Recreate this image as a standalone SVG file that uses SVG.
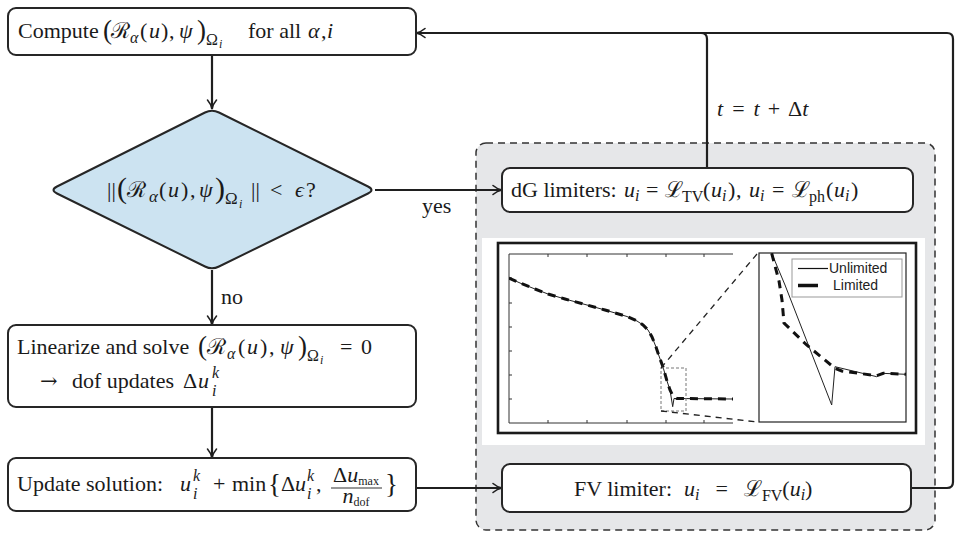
<svg xmlns="http://www.w3.org/2000/svg" width="956" height="533" viewBox="0 0 956 533">
<style>
.box{fill:#fff;stroke:#262626;stroke-width:2}
.t{font-family:"Liberation Serif","DejaVu Serif",serif;font-size:22px;fill:#1a1a1a}
.i{font-style:italic}
.s{font-size:16px}
.xs{font-size:12px}
.bp{font-size:27px}
.conn{fill:none;stroke:#1f1f1f;stroke-width:2.2}
.ax{fill:none;stroke:#333;stroke-width:1}
.sol{fill:none;stroke:#222;stroke-width:1}
.lim{fill:none;stroke:#111;stroke-width:3;stroke-dasharray:8 6}
.leg{font-family:"Liberation Sans",Arial,sans-serif;font-size:14px;fill:#222}
</style>
<defs>
<marker id="ah" viewBox="0 0 12 12" refX="11" refY="6" markerWidth="12" markerHeight="12" markerUnits="userSpaceOnUse" orient="auto">
<path d="M2,1.5 Q6,5 11,6 Q6,7 2,10.5" fill="none" stroke="#1f1f1f" stroke-width="1.6" stroke-linecap="round"/>
</marker>
<clipPath id="cmain"><rect x="509" y="254" width="224" height="169"/></clipPath>
<clipPath id="cins"><rect x="759" y="253" width="147" height="169"/></clipPath>
</defs>

<g id="limiter-region">
<rect x="476" y="143" width="459" height="387" rx="10" fill="#e6e7e9" stroke="#333" stroke-width="1.5" stroke-dasharray="7 5"/>
<rect x="482" y="238" width="443" height="207" fill="#fff"/>
</g>

<g id="plot">
<rect x="498" y="243" width="418" height="190" fill="none" stroke="#1a1a1a" stroke-width="2.6"/>
<path class="ax" d="M509,254 V423 M509,254 H733 M509,423 H733"/>
<path class="ax" d="M548,254v3M587,254v3M627,254v3M666,254v3M704,254v3M548,423v-3M587,423v-3M627,423v-3M666,423v-3M704,423v-3M509,278h3M509,303h3M509,327h3M509,351h3M509,375h3M509,399h3"/>
<g clip-path="url(#cmain)">
<polyline class="sol" points="509,278 520,283 535,289 548,294 565,299 587,305 605,310 627,316.5 637,321 643,325 648,330 652,337 656,347 659,356 663,367 667,381 670,390 672.7,406.7 674,398.5 677,398.5 733,399"/>
<polyline class="lim" points="509,278 520,283 535,289 548,294 565,299 587,305 605,310 627,316.5 637,321 643,325 648,330 652,337 656,347 659,356 663,367 667,381 670,390 673,396 677,398.5 733,399"/>
</g>
<rect x="661" y="368" width="25" height="43" fill="none" stroke="#777" stroke-width="1" stroke-dasharray="3 2"/>
<path d="M661,368 L757,254 M661,411 L757,422" fill="none" stroke="#222" stroke-width="1.3" stroke-dasharray="6 5"/>
<rect x="759" y="253" width="147" height="169" fill="#fff" stroke="#222" stroke-width="1.2"/>
<g clip-path="url(#cins)">
<polyline class="sol" points="771.7,253.3 785,285 831.7,405 835,366.7 876.7,376.7 881.7,373.3 906,374.3"/>
<polyline class="lim" points="771.7,253.3 779,281 782,300 784,323 806.7,345 835,368.3 841.7,371 876.7,375.7 883.3,373.3 906,374.3"/>
</g>
<rect x="792" y="259" width="110" height="38" fill="#fff" stroke="#999" stroke-width="1"/>
<path d="M798,268.5 H828" stroke="#111" stroke-width="1.2"/>
<path d="M798,285.5 H818" stroke="#111" stroke-width="3.5"/>
<text class="leg" x="829" y="273">Unlimited</text>
<text class="leg" x="833" y="290">Limited</text>
</g>

<g id="connectors">
<path class="conn" d="M212,55 V109" marker-end="url(#ah)"/>
<path class="conn" d="M375,190 H502" marker-end="url(#ah)"/>
<path class="conn" d="M212,270 V325" marker-end="url(#ah)"/>
<path class="conn" d="M212,407 V458" marker-end="url(#ah)"/>
<path class="conn" d="M416,488 H502" marker-end="url(#ah)"/>
<path class="conn" d="M911,488 H947 Q953,488 953,482 V39 Q953,33 947,33 H416" marker-end="url(#ah)"/>
<path class="conn" d="M707,168 V39 Q707,33 701,33"/>
<text class="t" x="422" y="213">yes</text>
<text class="t" x="221" y="304">no</text>
<text class="t" x="717" y="116" font-size="24"><tspan class="i">t</tspan><tspan dx="9">=</tspan><tspan class="i" dx="9">t</tspan><tspan dx="8">+</tspan><tspan dx="8">Δ</tspan><tspan class="i">t</tspan></text>
</g>

<g id="compute">
<rect class="box" x="8" y="8" width="408" height="47" rx="8"/>
<text class="t" y="38"><tspan x="18">Compute</tspan><tspan x="103" class="bp" y="39">(</tspan><tspan x="111" y="38">ℛ</tspan><tspan x="130" class="s i" y="43">α</tspan><tspan x="140" y="38">(</tspan><tspan x="149" class="i">u</tspan><tspan x="161">)</tspan><tspan x="169">,</tspan><tspan x="179" class="i">ψ</tspan><tspan x="197" class="bp" y="39">)</tspan><tspan x="206" class="s" y="45">Ω</tspan><tspan x="219" class="xs i" y="48">i</tspan><tspan x="248" y="38">for all</tspan><tspan x="308" class="i">α</tspan><tspan x="321">,</tspan><tspan x="327" class="i">i</tspan></text>
</g>

<g id="check">
<path d="M205,112.5 Q212,109 219,112.5 L368,186.5 Q375,190 368,193.5 L219,266.5 Q212,270 205,266.5 L57,193.5 Q50,190 57,186.5 Z" fill="#cce3f1" stroke="#262626" stroke-width="2"/>
<text class="t" y="197" font-size="25"><tspan x="107">||</tspan><tspan x="117" y="198" font-size="30">(</tspan><tspan x="127" y="197">ℛ</tspan><tspan x="149" class="i" y="202" font-size="17">α</tspan><tspan x="159" y="197">(</tspan><tspan x="168" class="i">u</tspan><tspan x="181">)</tspan><tspan x="190">,</tspan><tspan x="199" class="i">ψ</tspan><tspan x="215" y="198" font-size="30">)</tspan><tspan x="225" y="204" font-size="17">Ω</tspan><tspan x="239" class="i" y="208" font-size="12">i</tspan><tspan x="251" y="197">||</tspan><tspan x="270">&lt;</tspan><tspan x="295" class="i">ϵ</tspan><tspan x="306">?</tspan></text>
</g>

<g id="linearize">
<rect class="box" x="8" y="325" width="408" height="82" rx="8"/>
<text class="t" y="354"><tspan x="17">Linearize and solve</tspan><tspan x="198" class="bp" y="355">(</tspan><tspan x="207" y="354">ℛ</tspan><tspan x="227" class="s i" y="359">α</tspan><tspan x="238" y="354">(</tspan><tspan x="247" class="i">u</tspan><tspan x="260">)</tspan><tspan x="269">,</tspan><tspan x="280" class="i">ψ</tspan><tspan x="298" class="bp" y="355">)</tspan><tspan x="307" class="s" y="361">Ω</tspan><tspan x="320" class="xs i" y="364">i</tspan><tspan x="340" y="354">=</tspan><tspan x="361">0</tspan></text>
<text class="t" y="388"><tspan x="40" font-family="DejaVu Serif" font-size="21">→</tspan><tspan x="72">dof updates</tspan><tspan x="183">Δ</tspan><tspan x="198" class="i">u</tspan><tspan x="212" class="s i" y="378">k</tspan><tspan x="212" class="s i" y="396">i</tspan></text>
</g>

<g id="update">
<rect class="box" x="8" y="458" width="408" height="53" rx="8"/>
<text class="t" y="491"><tspan x="17">Update solution:</tspan><tspan x="180" class="i">u</tspan><tspan x="193" y="481" class="s i">k</tspan><tspan x="193" y="499" class="s i">i</tspan><tspan x="213" y="491">+</tspan><tspan x="232">min</tspan><tspan x="268" class="bp" y="493">{</tspan><tspan x="281" y="491">Δ</tspan><tspan x="295" class="i">u</tspan><tspan x="307" y="481" class="s i">k</tspan><tspan x="307" y="499" class="s i">i</tspan><tspan x="316" y="491">,</tspan><tspan x="385" class="bp" y="493">}</tspan></text>
<text class="t" x="356" y="482" text-anchor="middle" font-size="17">Δ<tspan class="i">u</tspan><tspan class="xs" dy="3">max</tspan></text>
<path d="M331,488 H382" stroke="#1a1a1a" stroke-width="0.9"/>
<text class="t" x="356" y="503" text-anchor="middle" font-size="17"><tspan class="i">n</tspan><tspan class="xs" dy="3">dof</tspan></text>
</g>

<g id="dg-limiters">
<rect class="box" x="502" y="168" width="411" height="44" rx="8"/>
<text class="t" y="197"><tspan x="511">dG limiters:</tspan><tspan x="624" class="i">u</tspan><tspan x="635" class="s i" y="201">i</tspan><tspan x="646" y="197">=</tspan><tspan x="665">ℒ</tspan><tspan x="682" class="s" y="202">TV</tspan><tspan x="703" y="197">(</tspan><tspan x="711" class="i">u</tspan><tspan x="722" class="s i" y="201">i</tspan><tspan x="728" y="197">)</tspan><tspan x="736">,</tspan><tspan x="749" class="i">u</tspan><tspan x="760" class="s i" y="201">i</tspan><tspan x="772" y="197">=</tspan><tspan x="792">ℒ</tspan><tspan x="809" class="s" y="202">ph</tspan><tspan x="826" y="197">(</tspan><tspan x="834" class="i">u</tspan><tspan x="845" class="s i" y="201">i</tspan><tspan x="851" y="197">)</tspan></text>
</g>

<g id="fv-limiter">
<rect class="box" x="502" y="464" width="409" height="48" rx="8"/>
<text class="t" x="574" y="496">FV limiter:<tspan class="i" dx="12">u</tspan><tspan class="s i" y="500">i</tspan><tspan y="496" dx="16">=</tspan><tspan dx="16">ℒ</tspan><tspan class="s" y="501">FV</tspan><tspan y="496">(</tspan><tspan class="i">u</tspan><tspan class="s i" y="500">i</tspan><tspan y="496">)</tspan></text>
</g>
</svg>
